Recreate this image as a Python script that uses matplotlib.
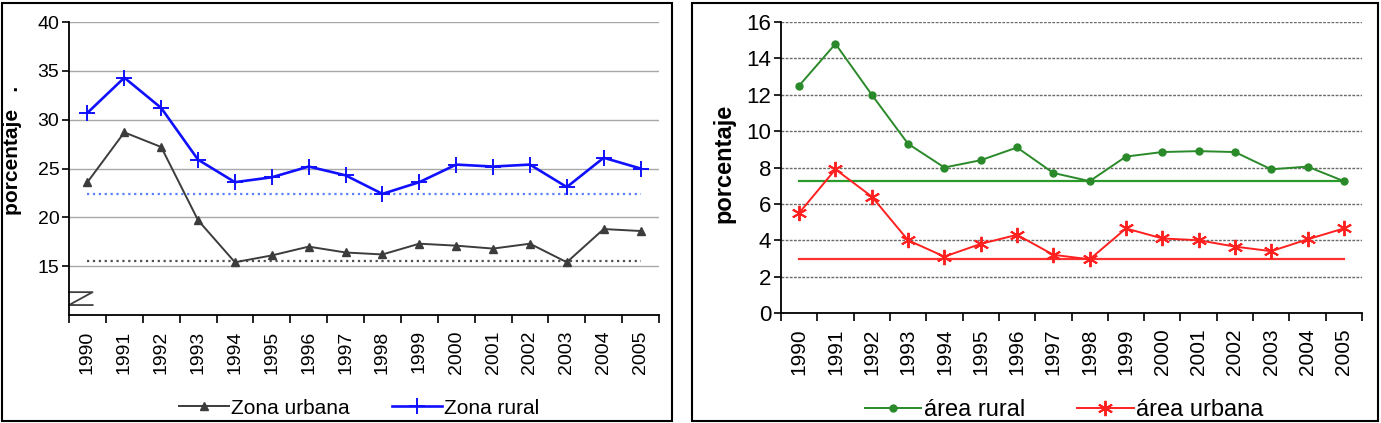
import matplotlib
matplotlib.use("Agg")
import matplotlib.pyplot as plt
from matplotlib.patches import Rectangle
import numpy as np

plt.rcParams['font.family'] = ['Liberation Sans', 'DejaVu Sans']

years = [str(y) for y in range(1990, 2006)]

# panel izquierdo
zona_urbana = [23.6, 28.7, 27.2, 19.7, 15.4, 16.1, 17.0, 16.4, 16.2, 17.3, 17.1, 16.8, 17.3, 15.4, 18.8, 18.6]
zona_rural = [30.7, 34.3, 31.2, 25.9, 23.6, 24.1, 25.2, 24.3, 22.4, 23.6, 25.4, 25.2, 25.4, 23.1, 26.1, 25.0]
prom_urbana = 15.5
prom_rural = 22.4

# panel derecho
area_rural = [12.5, 14.8, 12.0, 9.3, 8.0, 8.4, 9.1, 7.7, 7.25, 8.6, 8.85, 8.9, 8.85, 7.9, 8.05, 7.25]
area_urbana = [5.5, 7.9, 6.4, 4.0, 3.1, 3.8, 4.3, 3.2, 2.95, 4.65, 4.1, 4.0, 3.65, 3.4, 4.05, 4.65]
prom_area_rural = 7.25
prom_area_urbana = 2.95

W, H = 1381, 423
fig = plt.figure(figsize=(W / 100, H / 100), dpi=100)


def px(l, t, r, b):
    return [l / W, 1 - b / H, (r - l) / W, (b - t) / H]


# marcos de los paneles
fig.patches.append(Rectangle((2 / W, 2 / H), 670 / W, 418 / H, transform=fig.transFigure,
                             fill=False, edgecolor='black', linewidth=1.5))
fig.patches.append(Rectangle((692 / W, 2 / H), 686 / W, 418 / H, transform=fig.transFigure,
                             fill=False, edgecolor='black', linewidth=1.5))

x = np.arange(len(years))


def estilo(ax, ymin, ymax, yfs, xfs, grid_ls, grid_color):
    ax.set_xlim(-0.5, len(years) - 0.5)
    ax.set_ylim(ymin, ymax)
    ax.set_xticks(np.arange(-0.5, len(years)), minor=False)
    ax.set_xticklabels([])
    ax.set_xticks(x, minor=True)
    ax.set_xticklabels(years, minor=True, rotation=90, fontsize=xfs)
    ax.tick_params(axis='x', which='minor', length=0, pad=11)
    ax.tick_params(axis='x', which='major', length=6, width=1.2, direction='out')
    ax.tick_params(axis='y', length=5, width=1.2, labelsize=yfs, pad=2)
    for s in ['top', 'right']:
        ax.spines[s].set_visible(False)
    for s in ['left', 'bottom']:
        ax.spines[s].set_linewidth(1.3)
    ax.yaxis.grid(True, linestyle=grid_ls, color=grid_color, linewidth=1)
    ax.set_axisbelow(True)


# ---- izquierdo
ax1 = fig.add_axes(px(69, 22, 659, 315))
estilo(ax1, 10, 40, 14, 14, '-', '#a8a8a8')
ax1.set_yticks([15, 20, 25, 30, 35, 40])
ax1.plot(x, [prom_urbana] * len(x), linestyle=':', color='#505050', linewidth=1.6)
ax1.plot(x, [prom_rural] * len(x), linestyle=':', color='#5a80ff', linewidth=1.6)
ax1.plot(x, zona_urbana, color='#3c3c3c', marker='^', markersize=6, linewidth=1.4, label='Zona urbana')
ax1.plot(x, zona_rural, color='#1010ff', marker='+', markersize=12, markeredgewidth=1.4,
         linewidth=1.9, label='Zona rural')
ax1.set_ylabel('porcentaje   .', fontweight='bold', fontsize=15)
ax1.yaxis.set_label_coords(-0.08, 0.56)
# simbolo de corte de eje
ax1.plot([0.0, 0.04, 0.0, 0.04], [0.078, 0.078, 0.034, 0.034], transform=ax1.transAxes,
         color='#404040', linewidth=1.3, clip_on=False)
ax1.legend(loc='center', bbox_to_anchor=(359 / W, 1 - 408 / H), bbox_transform=fig.transFigure,
           ncol=2, frameon=False, fontsize=15, handlelength=2.4, handletextpad=0.1,
           columnspacing=2.0, borderpad=0, borderaxespad=0)

# ---- derecho
ax2 = fig.add_axes(px(781, 22, 1362, 313))
estilo(ax2, 0, 16, 16, 15, (0, (2, 1)), '#6a6a6a')
ax2.set_yticks(np.arange(0, 17, 2))
ax2.plot(x, [prom_area_rural] * len(x), linestyle='-', color='#2a9a2a', linewidth=1.6)
ax2.plot(x, [prom_area_urbana] * len(x), linestyle='-', color='#ff3030', linewidth=1.6)
ax2.plot(x, area_rural, color='#2a8a2a', marker='o', markersize=5, linewidth=1.4, label='área rural')
ax2.plot(x, area_urbana, color='#ff2020', marker=(6, 2, 0), markersize=11, markeredgewidth=1.4,
         linewidth=1.4, label='área urbana')
ax2.set_ylabel('porcentaje', fontweight='bold', fontsize=17)
ax2.yaxis.set_label_coords(-0.079, 0.515)
ax2.legend(loc='center', bbox_to_anchor=(1064 / W, 1 - 410 / H), bbox_transform=fig.transFigure,
           ncol=2, frameon=False, fontsize=17, handlelength=2.4, handletextpad=0.1,
           columnspacing=2.2, borderpad=0, borderaxespad=0)

fig.savefig('out.png', dpi=100)
